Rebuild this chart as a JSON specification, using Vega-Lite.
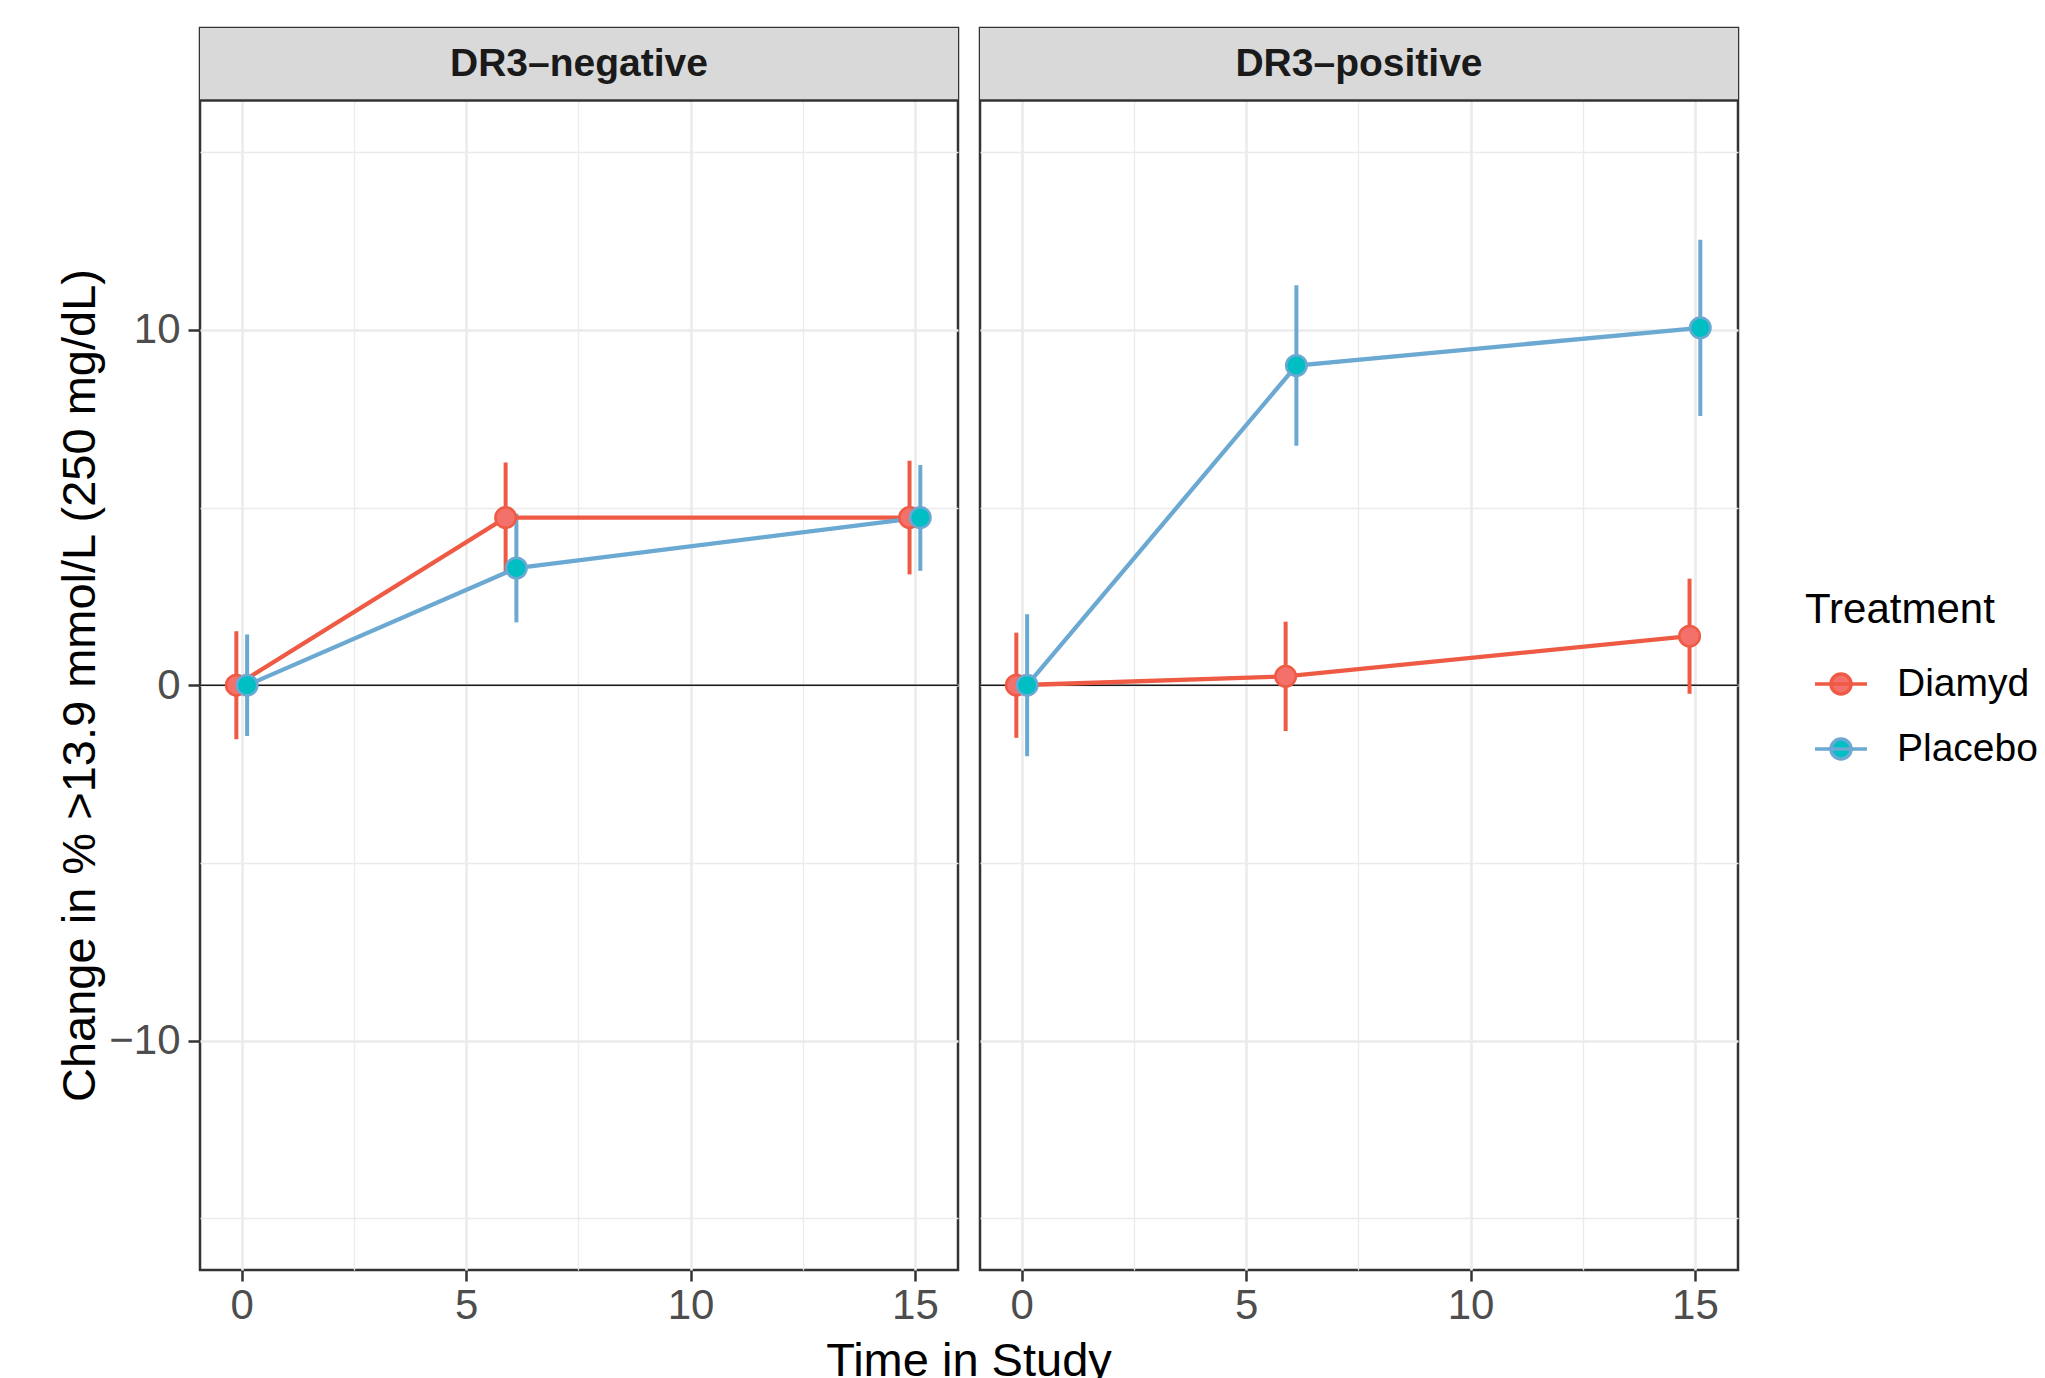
{
  "$schema": "https://vega.github.io/schema/vega-lite/v6.json",
  "padding": {"left": 56, "top": 26, "right": 5, "bottom": 0},
  "background": "white",
  "bounds": "flush",
  "config": {
    "font": "Liberation Sans",
    "view": {"stroke": "#333333", "strokeWidth": 2.5}
  },
  "data": {"values": [
    {"panel": "DR3–negative", "treatment": "Diamyd", "time": 0, "x": -0.12, "y": 0, "lo": -1.52, "hi": 1.52},
    {"panel": "DR3–negative", "treatment": "Diamyd", "time": 6, "x": 5.88, "y": 4.72, "lo": 3.17, "hi": 6.27},
    {"panel": "DR3–negative", "treatment": "Diamyd", "time": 15, "x": 14.88, "y": 4.72, "lo": 3.12, "hi": 6.32},
    {"panel": "DR3–negative", "treatment": "Placebo", "time": 0, "x": 0.12, "y": 0, "lo": -1.43, "hi": 1.43},
    {"panel": "DR3–negative", "treatment": "Placebo", "time": 6, "x": 6.12, "y": 3.3, "lo": 1.77, "hi": 4.83},
    {"panel": "DR3–negative", "treatment": "Placebo", "time": 15, "x": 15.12, "y": 4.72, "lo": 3.22, "hi": 6.2},
    {"panel": "DR3–positive", "treatment": "Diamyd", "time": 0, "x": -0.12, "y": 0, "lo": -1.48, "hi": 1.48},
    {"panel": "DR3–positive", "treatment": "Diamyd", "time": 6, "x": 5.88, "y": 0.25, "lo": -1.29, "hi": 1.79},
    {"panel": "DR3–positive", "treatment": "Diamyd", "time": 15, "x": 14.88, "y": 1.38, "lo": -0.24, "hi": 3.0},
    {"panel": "DR3–positive", "treatment": "Placebo", "time": 0, "x": 0.12, "y": 0, "lo": -2.0, "hi": 2.0},
    {"panel": "DR3–positive", "treatment": "Placebo", "time": 6, "x": 6.12, "y": 9.0, "lo": 6.74, "hi": 11.26},
    {"panel": "DR3–positive", "treatment": "Placebo", "time": 15, "x": 15.12, "y": 10.06, "lo": 7.58, "hi": 12.54}
  ]},
  "facet": {"column": {"field": "panel", "type": "nominal", "header": {"title": "Time in Study", "titleOrient": "bottom", "titleFontSize": 47, "titleFontWeight": "normal", "titleColor": "#000000", "titleFont": "Liberation Sans", "titlePadding": 3, "labels": false}}},
  "spacing": 22,
  "spec": {
    "width": 758,
    "height": 1242,
    "layer": [
      {
        "transform": [{"filter": "datum.treatment === 'Diamyd' && datum.time === 0"}],
        "mark": {"type": "rect", "fill": "#D9D9D9", "strokeWidth": 0},
        "encoding": {
          "x": {"datum": -0.93, "type": "quantitative", "scale": {"domain": [-0.93, 15.96], "nice": false, "zero": false},
            "axis": {"title": null, "values": [0, 2.5, 5, 7.5, 10, 12.5, 15], "labelExpr": "datum.value % 5 === 0 ? datum.label : ''", "domain": false, "grid": true, "gridColor": "#EBEBEB", "gridWidth": {"condition": {"test": "datum.value % 5 !== 0", "value": 1.3}, "value": 2.6}, "tickOpacity": {"condition": {"test": "datum.value % 5 !== 0", "value": 0}, "value": 1}, "tickColor": "#333333", "tickWidth": 2.5, "tickSize": 11, "labelFontSize": 42, "labelColor": "#4D4D4D", "labelPadding": 4}},
          "x2": {"datum": 15.96},
          "y": {"datum": 16.46, "type": "quantitative", "scale": {"domain": [-16.46, 18.5], "nice": false, "zero": false},
            "axis": {"title": "Change in % >13.9 mmol/L (250 mg/dL)", "titleY": 657, "values": [-15, -10, -5, 0, 5, 10, 15], "labelExpr": "datum.value % 10 === 0 ? datum.label : ''", "domain": false, "grid": true, "gridColor": "#EBEBEB", "gridWidth": {"condition": {"test": "datum.value % 10 !== 0", "value": 1.3}, "value": 2.6}, "tickOpacity": {"condition": {"test": "datum.value % 10 !== 0", "value": 0}, "value": 1}, "tickColor": "#333333", "tickWidth": 2.5, "tickSize": 12, "labelFontSize": 42, "labelColor": "#4D4D4D", "labelPadding": 8, "titleFontSize": 47, "titleFontWeight": "normal", "titleColor": "#000000", "titlePadding": 4}},
          "y2": {"datum": 18.5}
        }
      },
      {
        "transform": [{"filter": "datum.treatment === 'Diamyd' && datum.time === 0"}],
        "mark": {"type": "text", "fontSize": 39, "fontWeight": "bold", "color": "#1A1A1A", "baseline": "middle", "align": "center"},
        "encoding": {
          "x": {"datum": 7.515, "type": "quantitative"},
          "y": {"datum": 17.48, "type": "quantitative"},
          "text": {"field": "panel"}
        }
      },
      {
        "transform": [{"filter": "datum.treatment === 'Diamyd' && datum.time === 0"}],
        "mark": {"type": "rule", "color": "#333333", "strokeWidth": 2.5},
        "encoding": {"y": {"datum": 16.46, "type": "quantitative"}}
      },
      {
        "transform": [{"filter": "datum.treatment === 'Diamyd' && datum.time === 0"}],
        "mark": {"type": "rule", "color": "#1A1A1A", "strokeWidth": 1.6},
        "encoding": {"y": {"datum": 0, "type": "quantitative"}}
      },
      {
        "mark": {"type": "rule", "strokeWidth": 4},
        "encoding": {
          "x": {"field": "x", "type": "quantitative"},
          "y": {"field": "lo", "type": "quantitative"},
          "y2": {"field": "hi"},
          "stroke": {"field": "treatment", "type": "nominal", "scale": {"domain": ["Diamyd", "Placebo"], "range": ["#EE5A44", "#6BA9D2"]},
            "legend": {"title": "Treatment", "orient": "none", "legendX": 1605, "legendY": 562, "padding": 0, "titleFontSize": 42, "titleFontWeight": "normal", "titleColor": "#000000", "titleLimit": 0, "labelLimit": 0, "titlePadding": 24, "labelFontSize": 39, "labelColor": "#000000", "symbolType": "M-1,0L1,0M0.385,0A0.385,0.385,0,1,1,-0.385,0A0.385,0.385,0,1,1,0.385,0Z", "symbolSize": 2704, "symbolStrokeWidth": 3.5, "symbolOffset": 8, "labelOffset": 28, "rowPadding": 17}}
        }
      },
      {
        "mark": {"type": "line", "strokeWidth": 4.3},
        "encoding": {
          "x": {"field": "x", "type": "quantitative"},
          "y": {"field": "y", "type": "quantitative"},
          "order": {"field": "x"},
          "stroke": {"field": "treatment", "type": "nominal", "scale": {"domain": ["Diamyd", "Placebo"], "range": ["#EE5A44", "#6BA9D2"]},
            "legend": {"title": "Treatment", "orient": "none", "legendX": 1605, "legendY": 562, "padding": 0, "titleFontSize": 42, "titleFontWeight": "normal", "titleColor": "#000000", "titleLimit": 0, "labelLimit": 0, "titlePadding": 24, "labelFontSize": 39, "labelColor": "#000000", "symbolType": "M-1,0L1,0M0.385,0A0.385,0.385,0,1,1,-0.385,0A0.385,0.385,0,1,1,0.385,0Z", "symbolSize": 2704, "symbolStrokeWidth": 3.5, "symbolOffset": 8, "labelOffset": 28, "rowPadding": 17}}
        }
      },
      {
        "mark": {"type": "point", "shape": "circle", "size": 420, "strokeWidth": 2.5, "opacity": 1, "filled": true},
        "encoding": {
          "x": {"field": "x", "type": "quantitative"},
          "y": {"field": "y", "type": "quantitative"},
          "stroke": {"field": "treatment", "type": "nominal", "scale": {"domain": ["Diamyd", "Placebo"], "range": ["#EE5A44", "#6BA9D2"]},
            "legend": {"title": "Treatment", "orient": "none", "legendX": 1605, "legendY": 562, "padding": 0, "titleFontSize": 42, "titleFontWeight": "normal", "titleColor": "#000000", "titleLimit": 0, "labelLimit": 0, "titlePadding": 24, "labelFontSize": 39, "labelColor": "#000000", "symbolType": "M-1,0L1,0M0.385,0A0.385,0.385,0,1,1,-0.385,0A0.385,0.385,0,1,1,0.385,0Z", "symbolSize": 2704, "symbolStrokeWidth": 3.5, "symbolOffset": 8, "labelOffset": 28, "rowPadding": 17}},
          "fill": {"field": "treatment", "type": "nominal", "scale": {"domain": ["Diamyd", "Placebo"], "range": ["#F4706A", "#00BFC4"]},
            "legend": {"title": "Treatment", "orient": "none", "legendX": 1605, "legendY": 562, "padding": 0, "titleFontSize": 42, "titleFontWeight": "normal", "titleColor": "#000000", "titleLimit": 0, "labelLimit": 0, "titlePadding": 24, "labelFontSize": 39, "labelColor": "#000000", "symbolType": "M-1,0L1,0M0.385,0A0.385,0.385,0,1,1,-0.385,0A0.385,0.385,0,1,1,0.385,0Z", "symbolSize": 2704, "symbolStrokeWidth": 3.5, "symbolOffset": 8, "labelOffset": 28, "rowPadding": 17}}
        }
      }
    ]
  }
}
